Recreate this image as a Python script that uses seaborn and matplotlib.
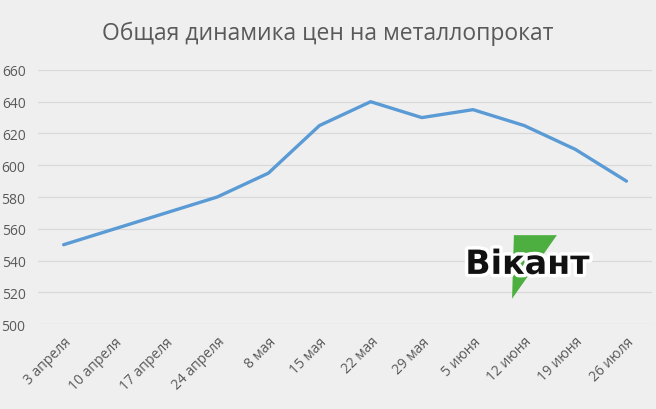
import matplotlib
matplotlib.use("Agg")
import matplotlib.pyplot as plt
from matplotlib.patches import Polygon
import matplotlib.patheffects as pe
import pandas as pd
import seaborn as sns

# data
dates = ["3 апреля", "10 апреля", "17 апреля", "24 апреля", "8 мая", "15 мая",
         "22 мая", "29 мая", "5 июня", "12 июня", "19 июня", "26 июля"]
prices = [550, 560, 570, 580, 595, 625, 640, 630, 635, 625, 610, 590]
y_ticks = [500, 520, 540, 560, 580, 600, 620, 640, 660]

bg = "#efefef"
sns.set_theme(style="white", rc={"figure.facecolor": bg, "axes.facecolor": bg})
plt.rcParams["font.family"] = ["Open Sans", "DejaVu Sans"]

df = pd.DataFrame({"date": dates, "price": prices})
df["pos"] = range(len(df))

fig = plt.figure(figsize=(6.56, 4.10), dpi=100)
ax = fig.add_axes([0.058, 0.207, 0.936, 0.62])

sns.lineplot(data=df, x="pos", y="price", ax=ax, color="#5b9bd5", linewidth=2.4)

ax.set_xlim(-0.5, len(dates) - 0.5)
ax.set_ylim(y_ticks[0], y_ticks[-1])
ax.set_yticks(y_ticks)
ax.set_yticklabels([str(v) for v in y_ticks])
ax.set_xticks(df["pos"])
ax.set_xticklabels(dates, rotation=45, ha="right", rotation_mode="anchor")
ax.tick_params(axis="y", length=0, pad=9, labelsize=10, labelcolor="#595959")
ax.tick_params(axis="x", length=0, pad=7, labelsize=10, labelcolor="#595959")
ax.grid(axis="y", color="#d9d9d9", linewidth=0.9)
ax.set_axisbelow(True)
for s in ax.spines.values():
    s.set_visible(False)
ax.set_xlabel("")
ax.set_ylabel("")

fig.text(0.5, 0.918, "Общая динамика цен на металлопрокат", ha="center",
         va="center", fontsize=16.5, color="#595959")

# watermark logo
tri = Polygon([[0.775, 0.35], [0.845, 0.35], [0.772, 0.10]], closed=True,
              transform=ax.transAxes, facecolor="#4caf3f", edgecolor="none",
              zorder=3)
ax.add_patch(tri)
ax.text(0.797, 0.235, "Вікант", transform=ax.transAxes, ha="center",
        va="center", fontsize=24, fontweight="bold", family="DejaVu Sans",
        color="#111111", zorder=4,
        path_effects=[pe.withStroke(linewidth=5, foreground="white")])

fig.savefig("out.png", dpi=100, facecolor=bg)
